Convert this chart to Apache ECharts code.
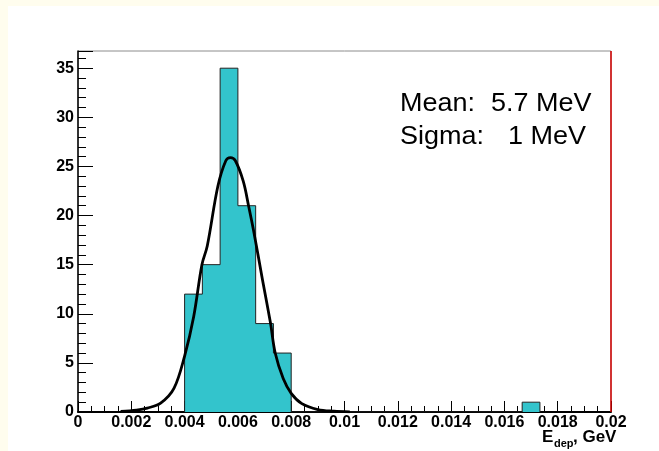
<!DOCTYPE html>
<html>
<head>
<meta charset="utf-8">
<script src="https://cdn.jsdelivr.net/npm/echarts@6/dist/echarts.min.js"></script>
<style>
html,body{margin:0;padding:0;background:#fffdee;}
#c{width:659px;height:451px;}
</style>
</head>
<body>
<div id="c"></div>
<script>
// Histogram: 30 bins over [0, 0.02]; only non-empty bins listed
const nBins = 30;
const xMin = 0, xMax = 0.02;
const binIndex = [6, 7, 8, 9, 10, 11, 25];
const binCounts = [12, 15, 35, 21, 9, 6, 1];

// Fit curve
const fitX = [0.0016, 0.0022, 0.0026, 0.0031, 0.0036, 0.0040, 0.00434, 0.00465, 0.00485, 0.00525, 0.00555, 0.00572, 0.0059, 0.0062, 0.0064, 0.0066, 0.0069, 0.00722, 0.0074, 0.0077, 0.0080, 0.0084, 0.0090, 0.0096, 0.0102];
const fitY = [0.05, 0.2, 0.4, 0.9, 2.4, 5.7, 9.7, 15.0, 16.9, 23.0, 25.6, 25.9, 25.6, 23.5, 21.0, 18.3, 13.8, 9.1, 6.0, 3.4, 1.9, 0.85, 0.25, 0.08, 0.02];

const xTickLabels = ['0', '0.002', '0.004', '0.006', '0.008', '0.01', '0.012', '0.014', '0.016', '0.018', '0.02'];
const yTickLabels = ['0', '5', '10', '15', '20', '25', '30', '35'];

const statLines = [['Mean:', '5.7 MeV'], ['Sigma:', '1 MeV']];

const bw = (xMax - xMin) / nBins;
const binData = binIndex.map((b, i) => [xMin + b * bw, xMin + (b + 1) * bw, binCounts[i]]);

// contour of the histogram (step outline)
const contour = [];
binData.forEach((d, i) => {
  const prev = binData[i - 1];
  if (!prev || Math.abs(prev[1] - d[0]) > 1e-9) {
    if (prev) contour.push([prev[1], 0]);
    contour.push([d[0], 0]);
  }
  contour.push([d[0], d[2]]);
  contour.push([d[1], d[2]]);
  if (i === binData.length - 1) contour.push([d[1], 0]);
});

const FONT = "'Liberation Sans', Arial, Helvetica, sans-serif";
const chart = echarts.init(document.getElementById('c'));

const statGraphics = [];
statLines.forEach((ln, i) => {
  const y = 104 + i * 33;
  statGraphics.push({type: 'text', x: 400, y: y, scaleX: 1.08, z: 100,
    style: {text: ln[0], font: '25px ' + FONT, fill: '#000', verticalAlign: 'middle'}});
  statGraphics.push({type: 'text', x: i === 0 ? 491 : 508, y: y, scaleX: 1.08, z: 100,
    style: {text: ln[1], font: '25px ' + FONT, fill: '#000', verticalAlign: 'middle'}});
});

chart.setOption({
  backgroundColor: '#fffdee',
  animation: false,
  graphic: [
    {type: 'rect', shape: {x: 8, y: 6, width: 660, height: 460}, style: {fill: '#ffffff'}, z: -100, silent: true},
    ...statGraphics,
    {type: 'text', x: 542, y: 446, z: 100, style: {text: 'E', font: 'bold 17px ' + FONT, fill: '#000', verticalAlign: 'bottom'}},
    {type: 'text', x: 554, y: 449, z: 100, style: {text: 'dep', font: 'bold 11px ' + FONT, fill: '#000', verticalAlign: 'bottom'}},
    {type: 'text', x: 573, y: 446, z: 100, style: {text: ', GeV', font: 'bold 17px ' + FONT, fill: '#000', verticalAlign: 'bottom'}}
  ],
  grid: {left: 78, right: 48, top: 51, bottom: 39, show: true, borderColor: '#8c8c8c', borderWidth: 1, backgroundColor: 'transparent'},
  xAxis: {
    type: 'value', min: xMin, max: xMax, interval: 0.002,
    axisLine: {show: true, onZero: false, lineStyle: {color: '#000', width: 2}},
    axisTick: {show: true, inside: true, length: 11, lineStyle: {color: '#000', width: 1}},
    minorTick: {show: true, splitNumber: 4, length: 6, lineStyle: {color: '#000', width: 1}},
    splitLine: {show: false},
    axisLabel: {margin: 3, color: '#000', fontFamily: FONT, fontWeight: 'bold', fontSize: 16,
      formatter: v => xTickLabels[Math.round(v / 0.002)] || ''}
  },
  yAxis: {
    type: 'value', min: 0, max: 36.75, interval: 5,
    axisLine: {show: true, onZero: false, lineStyle: {color: '#000', width: 1.5}},
    axisTick: {show: true, inside: true, length: 15, lineStyle: {color: '#000', width: 1}},
    minorTick: {show: true, splitNumber: 5, length: 8, lineStyle: {color: '#000', width: 1}},
    splitLine: {show: false},
    axisLabel: {margin: 4, color: '#000', fontFamily: FONT, fontWeight: 'bold', fontSize: 16, showMaxLabel: false,
      formatter: v => (Math.abs(v / 5 - Math.round(v / 5)) < 1e-6 ? (yTickLabels[Math.round(v / 5)] || '') : '')}
  },
  series: [
    {
      type: 'line', name: 'hist', data: contour, symbol: 'none', z: 3,
      lineStyle: {color: '#222', width: 1},
      areaStyle: {color: '#33c4cc', opacity: 1},
      markLine: {
        silent: true, symbol: 'none', label: {show: false},
        lineStyle: {color: '#d40000', width: 1.5, type: 'solid'},
        data: [{xAxis: xMax}]
      }
    },
    {
      type: 'line', name: 'fit', data: fitX.map((x, i) => [x, fitY[i]]), symbol: 'none', smooth: 0.35, z: 4,
      lineStyle: {color: '#000', width: 2.8}
    }
  ]
});
</script>
</body>
</html>
